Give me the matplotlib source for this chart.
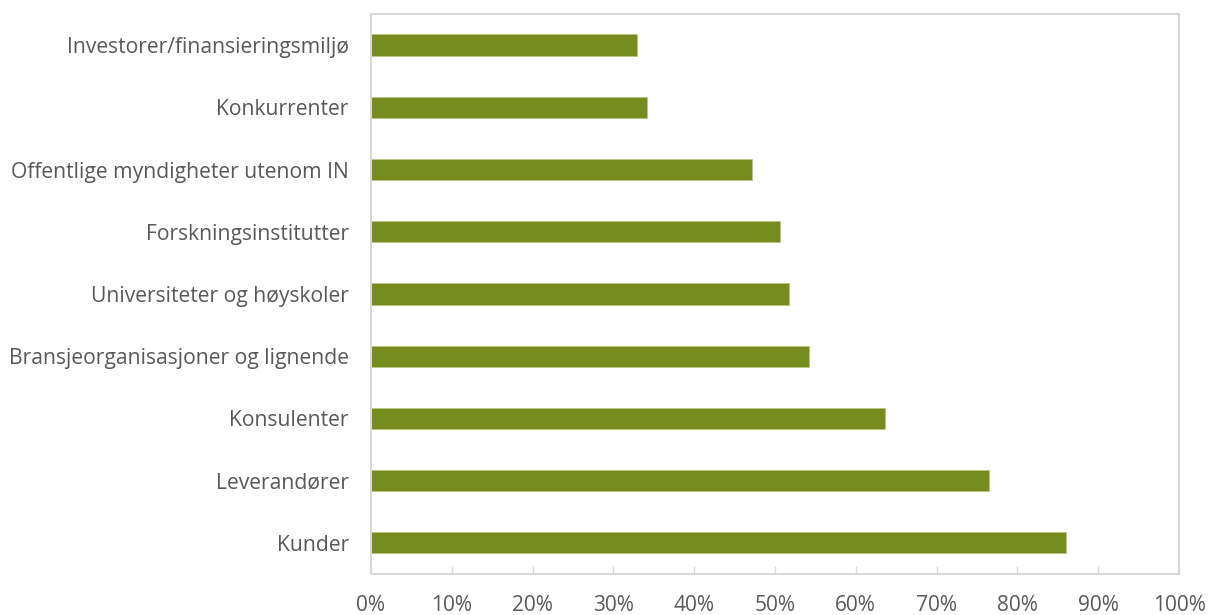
import numpy as np
import matplotlib
matplotlib.use("Agg")
import matplotlib.pyplot as plt
from matplotlib.ticker import FuncFormatter, MultipleLocator

# categories, bottom to top
categories = [
    "Kunder",
    "Leverandører",
    "Konsulenter",
    "Bransjeorganisasjoner og lignende",
    "Universiteter og høyskoler",
    "Forskningsinstitutter",
    "Offentlige myndigheter utenom IN",
    "Konkurrenter",
    "Investorer/finansieringsmiljø",
]
shares = [0.860, 0.765, 0.636, 0.542, 0.517, 0.506, 0.471, 0.342, 0.329]

BAR_COLOR = "#778B1F"
TEXT_COLOR = "#595959"
FRAME_COLOR = "#D9D9D9"

plt.rcParams["font.family"] = ["Open Sans", "DejaVu Sans"]

fig = plt.figure(figsize=(12.08, 6.15), dpi=100)
ax = fig.add_axes([0.3071, 0.0667, 0.6689, 0.9106])

y = np.arange(len(categories))
ax.barh(y, shares, height=0.34, color=BAR_COLOR, edgecolor="#B9C77F", linewidth=0.6)

ax.set_xlim(0, 1)
ax.set_ylim(-0.5, len(categories) - 0.5)
ax.set_yticks(y)
ax.set_yticklabels(categories)
ax.xaxis.set_major_locator(MultipleLocator(0.1))
ax.xaxis.set_major_formatter(FuncFormatter(lambda v, _: f"{v * 100:.0f}%"))

for s in ax.spines.values():
    s.set_color(FRAME_COLOR)
    s.set_linewidth(1.5)

ax.tick_params(axis="x", direction="in", length=6, width=1, color=FRAME_COLOR,
               labelsize=15, labelcolor=TEXT_COLOR, pad=15)
ax.tick_params(axis="y", length=0, labelsize=15.2, labelcolor=TEXT_COLOR, pad=16)

fig.savefig("out.png", dpi=100)
